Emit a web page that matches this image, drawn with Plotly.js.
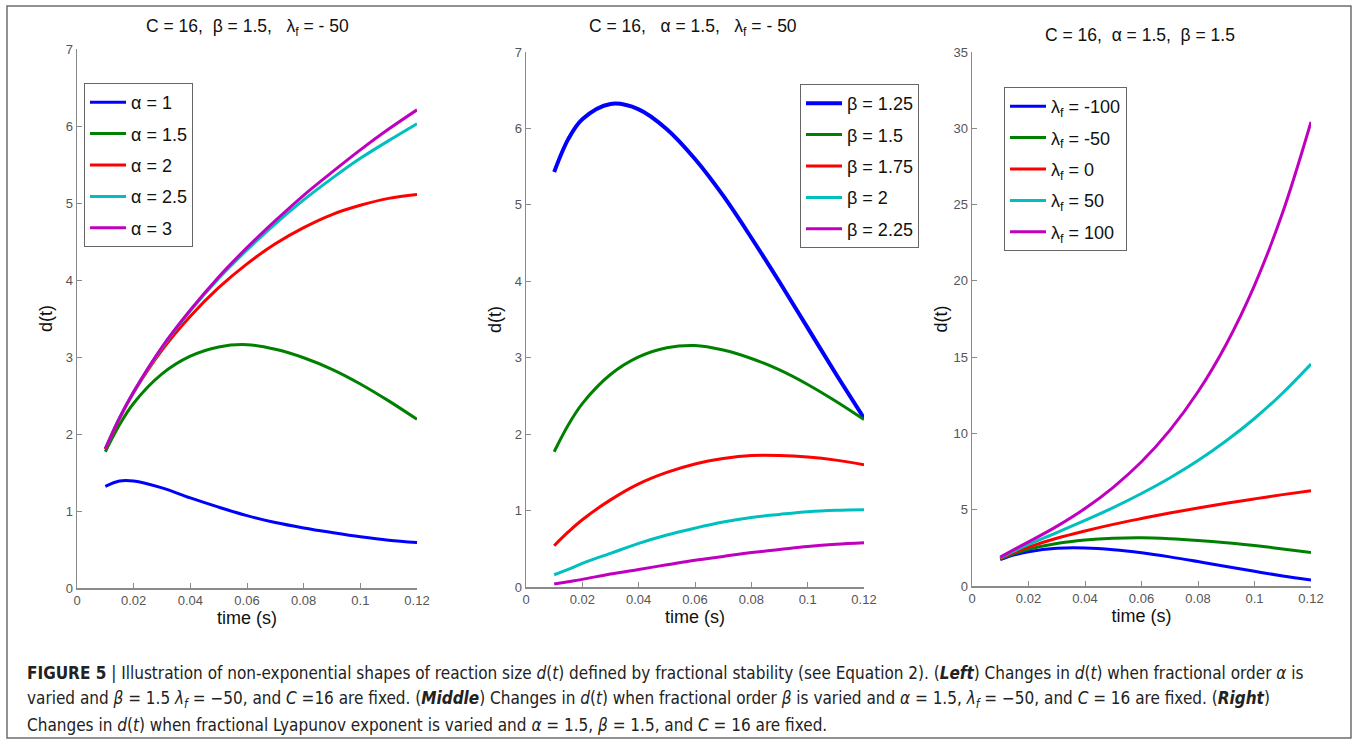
<!DOCTYPE html>
<html>
<head>
<meta charset="utf-8">
<script src="https://cdn.plot.ly/plotly-3.0.1.min.js"></script>
<style>
html,body{margin:0;padding:0;background:#fff;}
#chart{width:1358px;height:744px;}
</style>
</head>
<body>
<div id="chart"></div>
<script>
// ---- data ----
const time = [0.01, 0.015, 0.02, 0.03, 0.04, 0.05, 0.06, 0.07, 0.08, 0.09, 0.10, 0.11, 0.12];
const xTickVals = [0, 0.02, 0.04, 0.06, 0.08, 0.1, 0.12];
const xTickText = ['0', '0.02', '0.04', '0.06', '0.08', '0.1', '0.12'];

// Left panel: C = 16, beta = 1.5, lambda_f = -50, alpha varied
const leftLabels = ['α = 1', 'α = 1.5', 'α = 2', 'α = 2.5', 'α = 3'];
const dAlpha1  = [1.32, 1.39, 1.39, 1.30, 1.17, 1.05, 0.94, 0.85, 0.78, 0.72, 0.665, 0.62, 0.59];
const dAlpha15 = [1.77, 2.12, 2.40, 2.78, 3.01, 3.13, 3.16, 3.10, 2.99, 2.84, 2.65, 2.43, 2.19];
const dAlpha2  = [1.80, 2.20, 2.54, 3.09, 3.53, 3.90, 4.21, 4.47, 4.68, 4.85, 4.97, 5.06, 5.11];
const dAlpha25 = [1.81, 2.21, 2.55, 3.12, 3.60, 4.02, 4.39, 4.73, 5.04, 5.32, 5.58, 5.81, 6.03];
const dAlpha3  = [1.81, 2.21, 2.55, 3.13, 3.61, 4.04, 4.42, 4.77, 5.10, 5.40, 5.69, 5.96, 6.21];

// Middle panel: C = 16, alpha = 1.5, lambda_f = -50, beta varied
const midLabels = ['β = 1.25', 'β = 1.5', 'β = 1.75', 'β = 2', 'β = 2.25'];
const dBeta125 = [5.43, 5.86, 6.12, 6.32, 6.25, 5.99, 5.60, 5.12, 4.57, 3.99, 3.39, 2.79, 2.21];
const dBeta15  = [1.77, 2.12, 2.40, 2.78, 3.01, 3.13, 3.16, 3.10, 2.99, 2.84, 2.65, 2.43, 2.19];
const dBeta175 = [0.54, 0.72, 0.88, 1.14, 1.35, 1.50, 1.61, 1.68, 1.72, 1.72, 1.70, 1.66, 1.60];
const dBeta2   = [0.16, 0.23, 0.31, 0.44, 0.57, 0.68, 0.77, 0.85, 0.91, 0.95, 0.985, 1.004, 1.011];
const dBeta225 = [0.04, 0.07, 0.10, 0.17, 0.23, 0.29, 0.35, 0.40, 0.45, 0.49, 0.53, 0.56, 0.58];

// Right panel: C = 16, alpha = 1.5, beta = 1.5, lambda_f varied
const rightLabels = ['λ<sub>f</sub> = -100', 'λ<sub>f</sub> = -50', 'λ<sub>f</sub> = 0', 'λ<sub>f</sub> = 50', 'λ<sub>f</sub> = 100'];
const dLamM100 = [1.73, 2.04, 2.25, 2.47, 2.49, 2.38, 2.18, 1.91, 1.60, 1.28, 0.96, 0.66, 0.39];
const dLamM50  = [1.77, 2.12, 2.40, 2.78, 3.01, 3.13, 3.16, 3.10, 2.99, 2.84, 2.65, 2.43, 2.19];
const dLam0    = [1.81, 2.21, 2.55, 3.13, 3.61, 4.04, 4.42, 4.78, 5.11, 5.42, 5.71, 5.99, 6.25];
const dLam50   = [1.85, 2.30, 2.72, 3.50, 4.30, 5.14, 6.06, 7.08, 8.22, 9.52, 10.98, 12.65, 14.55];
const dLam100  = [1.89, 2.40, 2.89, 3.91, 5.08, 6.47, 8.14, 10.20, 12.73, 15.85, 19.71, 24.49, 30.41];

const colors = ['#0000FF', '#008000', '#FF0000', '#00BFBF', '#BF00BF'];

// ---- layout helpers (pixel -> paper) ----
const W = 1358, H = 744;
const px = v => v / W;
const py = v => 1 - v / H;

function mk(xs, ys, name, i, ax, leg, width) {
  return {
    x: xs, y: ys, name: name, type: 'scatter', mode: 'lines',
    line: {color: colors[i], width: width, shape: 'spline', smoothing: 1},
    xaxis: 'x' + ax, yaxis: 'y' + ax, legend: leg,
    legendgroup: leg + '_' + i, hoverinfo: 'x+y'
  };
}

const traces = [];
[dAlpha1, dAlpha15, dAlpha2, dAlpha25, dAlpha3].forEach((s, i) => traces.push(mk(time, s, leftLabels[i], i, '', 'legend', 3)));
[dBeta125, dBeta15, dBeta175, dBeta2, dBeta225].forEach((s, i) => traces.push(mk(time, s, midLabels[i], i, '2', 'legend2', i === 0 ? 4 : 3)));
[dLamM100, dLamM50, dLam0, dLam50, dLam100].forEach((s, i) => traces.push(mk(time, s, rightLabels[i], i, '3', 'legend3', 3)));

const axisLine = '#8a8a8a';
const tickFont = {family: 'Liberation Sans, Arial, sans-serif', size: 13, color: '#555'};
const titleFont = {family: 'Liberation Sans, Arial, sans-serif', size: 18, color: '#111'};

function xax(x0, x1, anchor) {
  return {
    domain: [px(x0), px(x1)], anchor: anchor, range: [0, 0.12],
    tickvals: xTickVals, ticktext: xTickText,
    ticks: 'inside', ticklen: 5, tickwidth: 1, tickcolor: axisLine,
    showline: true, linecolor: axisLine, linewidth: 1.5,
    showgrid: false, zeroline: false, tickfont: tickFont,
    title: {text: 'time (s)', font: titleFont, standoff: 4},
    automargin: false, fixedrange: true
  };
}
function yax(y0, y1, anchor, max, dt, standoff) {
  return {
    domain: [py(y1), py(y0)], anchor: anchor, range: [0, max], dtick: dt, tick0: 0,
    ticks: 'inside', ticklen: 5, tickwidth: 1, tickcolor: axisLine,
    showline: true, linecolor: axisLine, linewidth: 1.5,
    showgrid: false, zeroline: false, tickfont: tickFont,
    title: {text: 'd(t)', font: titleFont, standoff: standoff},
    automargin: false, fixedrange: true
  };
}
function legend(x, y) {
  return {
    x: px(x), y: py(y), xanchor: 'left', yanchor: 'top',
    bgcolor: '#ffffff', bordercolor: '#666', borderwidth: 1,
    font: {family: 'Liberation Sans, Arial, sans-serif', size: 18, color: '#111'},
    traceorder: 'grouped', tracegroupgap: 5, itemwidth: 36
  };
}

const capFont = {family: '"Liberation Sans Narrow", "Arial Narrow", "DejaVu Sans Condensed", sans-serif', size: 17, color: '#222'};
const sp = '\u00a0';

const layout = {
  width: W, height: H,
  margin: {l: 0, r: 0, t: 0, b: 0},
  paper_bgcolor: '#fff', plot_bgcolor: '#fff',
  showlegend: true,
  xaxis: xax(77, 417, 'y'),
  yaxis: yax(49, 588, 'x', 7, 1, 8),
  xaxis2: xax(526, 864, 'y2'),
  yaxis2: yax(52, 587, 'x2', 7, 1, 8),
  xaxis3: xax(972, 1311, 'y3'),
  yaxis3: yax(52, 586, 'x3', 35, 5, 1),
  legend: legend(84, 83),
  legend2: legend(800, 84),
  legend3: legend(1004, 87),
  shapes: [{
    type: 'rect', xref: 'paper', yref: 'paper',
    x0: px(7), x1: px(1351), y0: py(738), y1: py(6),
    line: {color: '#6e6e6e', width: 1.5}, fillcolor: 'rgba(0,0,0,0)', layer: 'below'
  }],
  annotations: [
    {text: 'C = 16,' + sp + sp + 'β = 1.5,' + sp + sp + sp + 'λ<sub>f</sub> = - 50', x: px(247), y: py(28)},
    {text: 'C = 16,' + sp + sp + sp + 'α = 1.5,' + sp + sp + sp + 'λ<sub>f</sub> = - 50', x: px(693), y: py(28)},
    {text: 'C = 16,' + sp + sp + 'α = 1.5,' + sp + sp + 'β = 1.5', x: px(1140), y: py(35)}
  ].map(a => Object.assign(a, {
    xref: 'paper', yref: 'paper', xanchor: 'center', yanchor: 'middle', showarrow: false,
    font: {family: 'Liberation Sans, Arial, sans-serif', size: 17.5, color: '#111'}
  })).concat([
    {text: '<b>FIGURE 5</b> | Illustration of non-exponential shapes of reaction size <i>d</i>(<i>t</i>) defined by fractional stability (see Equation 2). (<b><i>Left</i></b>) Changes in <i>d</i>(<i>t</i>) when fractional order <i>α</i> is', y: py(673)},
    {text: 'varied and <i>β</i> = 1.5 <i>λ<sub>f</sub></i> = −50, and <i>C</i> =16 are fixed. (<b><i>Middle</i></b>) Changes in <i>d</i>(<i>t</i>) when fractional order <i>β</i> is varied and <i>α</i> = 1.5, <i>λ<sub>f</sub></i> = −50, and <i>C</i> = 16 are fixed. (<b><i>Right</i></b>)', y: py(699)},
    {text: 'Changes in <i>d</i>(<i>t</i>) when fractional Lyapunov exponent is varied and <i>α</i> = 1.5, <i>β</i> = 1.5, and <i>C</i> = 16 are fixed.', y: py(725)}
  ].map(a => Object.assign(a, {
    x: px(25), xref: 'paper', yref: 'paper', xanchor: 'left', yanchor: 'middle', showarrow: false, font: capFont
  })))
};

Plotly.newPlot('chart', traces, layout, {staticPlot: true, displayModeBar: false});
</script>
</body>
</html>
